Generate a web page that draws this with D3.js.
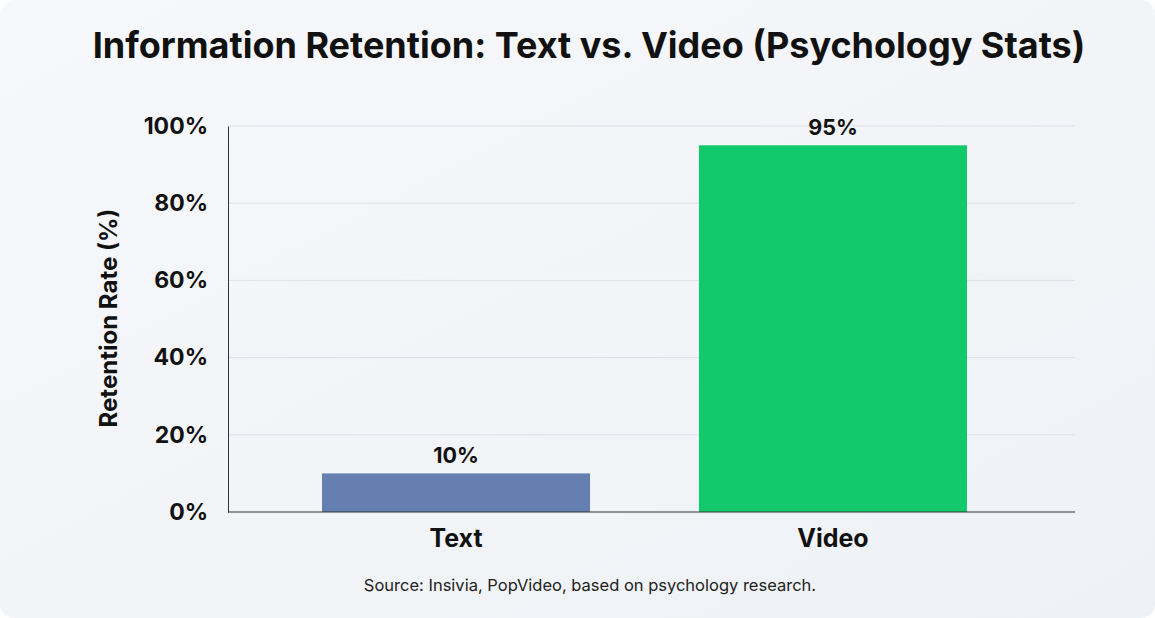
<!DOCTYPE html>
<html><head><meta charset="utf-8">
<script src="https://cdn.jsdelivr.net/npm/d3@7"></script>
<style>body{margin:0;background:#fff}svg{display:block}</style>
</head><body><svg id="c" width="1155" height="618"></svg>
<script>
const categories = ["Text", "Video"];
const values = [10, 95];
const colors = ["#6580b0", "#12c96b"];
const yTicks = [0, 20, 40, 60, 80, 100];
const title = "Information Retention: Text vs. Video (Psychology Stats)";
const yTitle = "Retention Rate (%)";
const source = "Source: Insivia, PopVideo, based on psychology research.";

const svg = d3.select("#c");
const defs = svg.append("defs");
const g = defs.append("linearGradient").attr("id","bg").attr("x1","0").attr("y1","0").attr("x2","1").attr("y2","1");
g.append("stop").attr("offset","0").attr("stop-color","#f7f8fb");
g.append("stop").attr("offset","1").attr("stop-color","#eef1f5");
svg.append("rect").attr("width",1155).attr("height",618).attr("rx",14).attr("fill","url(#bg)");

const font = "Inter, 'Open Sans', sans-serif";
const x = d3.scaleBand().domain(categories).range([322,967]).paddingInner(0.289).paddingOuter(0);
const y = d3.scaleLinear().domain([0,100]).range([512,126]);

svg.append("text").attr("x",589).attr("y",58).attr("text-anchor","middle")
  .attr("font-family",font).attr("font-weight",700).attr("font-size",36).attr("fill","#111").text(title);

svg.append("g").selectAll("line").data(yTicks.slice(1)).join("line")
  .attr("x1",228).attr("x2",1075).attr("y1",d=>y(d)).attr("y2",d=>y(d))
  .attr("stroke","#dde1e6").attr("stroke-width",1);

const ya = svg.append("g").attr("transform","translate(228,0)")
  .call(d3.axisLeft(y).tickValues(yTicks).tickFormat(d=>d+"%").tickSize(0).tickPadding(20));
ya.select(".domain").attr("stroke","#333");
ya.selectAll("text").attr("font-family",font).attr("font-weight",700).attr("font-size",23).attr("fill","#111");

svg.selectAll("rect.bar").data(values).join("rect").attr("class","bar")
  .attr("x",(d,i)=>x(categories[i])).attr("width",x.bandwidth())
  .attr("y",d=>y(d)).attr("height",d=>y(0)-y(d)).attr("fill",(d,i)=>colors[i]);

svg.selectAll("text.val").data(values).join("text").attr("class","val")
  .attr("x",(d,i)=>x(categories[i])+x.bandwidth()/2).attr("y",d=>y(d)-10)
  .attr("text-anchor","middle").attr("font-family",font).attr("font-weight",700).attr("font-size",21.5).attr("fill","#111")
  .text(d=>d+"%");

svg.append("line").attr("x1",228).attr("x2",1075).attr("y1",y(0)).attr("y2",y(0)).attr("stroke","#333");

svg.selectAll("text.cat").data(categories).join("text").attr("class","cat")
  .attr("x",d=>x(d)+x.bandwidth()/2).attr("y",547).attr("text-anchor","middle")
  .attr("font-family",font).attr("font-weight",700).attr("font-size",25).attr("fill","#111").text(d=>d);

svg.append("text").attr("transform","translate(117,318) rotate(-90)").attr("text-anchor","middle")
  .attr("font-family",font).attr("font-weight",700).attr("font-size",24).attr("fill","#111").text(yTitle);

svg.append("text").attr("x",590).attr("y",591).attr("text-anchor","middle")
  .attr("font-family",font).attr("font-size",16.5).attr("fill","#222").text(source);
</script></body></html>
